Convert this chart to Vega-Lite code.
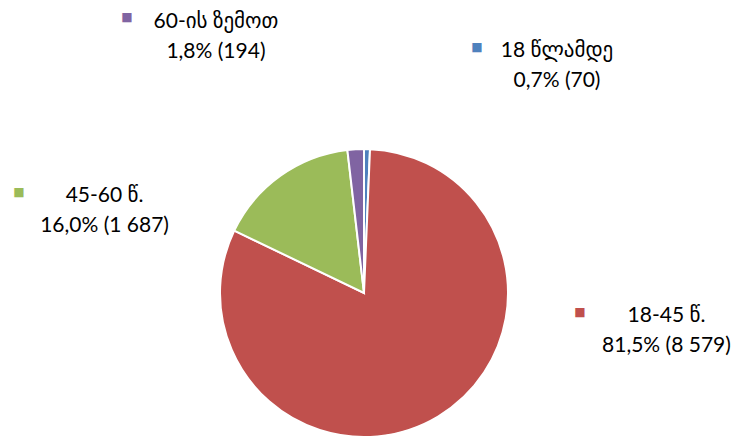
{
  "$schema": "https://vega.github.io/schema/vega-lite/v6.json",
  "width": 288,
  "height": 288,
  "autosize": {"type": "none"},
  "padding": {"left": 220, "top": 149, "right": 228, "bottom": 0},
  "background": "white",
  "config": {"view": {"stroke": null}},
  "data": {
    "values": [
      {"group": "18 წლამდე", "age": 1, "count": 70},
      {"group": "18-45 წ.", "age": 2, "count": 8579},
      {"group": "45-60 წ.", "age": 3, "count": 1687},
      {"group": "60-ის ზემოთ", "age": 4, "count": 194}
    ]
  },
  "transform": [
    {"joinaggregate": [{"op": "sum", "field": "count", "as": "total"}]},
    {"calculate": "replace(format(datum.count / datum.total * 100, '.1f'), '.', ',') + '% (' + replace(format(datum.count, ','), ',', ' ') + ')'", "as": "share"},
    {"calculate": "datum.group + '\\n' + datum.share", "as": "label"}
  ],
  "encoding": {
    "theta": {"field": "count", "type": "quantitative", "stack": true},
    "order": {"field": "age", "type": "quantitative"}
  },
  "layer": [
    {
      "mark": {"type": "arc", "stroke": "white", "strokeWidth": 2},
      "encoding": {
        "color": {"field": "group", "type": "nominal", "legend": null,
          "scale": {"domain": ["18 წლამდე", "18-45 წ.", "45-60 წ.", "60-ის ზემოთ"], "range": ["#4F81BD", "#C0504D", "#9BBB59", "#8064A2"]}}
      }
    },
    {
      "mark": {"type": "text", "radius": 144, "dx": 190, "dy": -98, "align": "center", "baseline": "middle", "lineBreak": "\n", "lineHeight": 30, "fontSize": 21, "font": "Lato, DejaVu Sans", "color": "black"},
      "encoding": {"text": {"condition": {"test": "datum.age == 1", "field": "label"}, "value": ""}}
    },
    {
      "mark": {"type": "text", "radius": 144, "dx": 228.4, "dy": -100, "align": "center", "baseline": "middle", "lineBreak": "\n", "lineHeight": 30, "fontSize": 21, "font": "Lato, DejaVu Sans", "color": "black"},
      "encoding": {"text": {"condition": {"test": "datum.age == 2", "field": "label"}, "value": ""}}
    },
    {
      "mark": {"type": "text", "radius": 144, "dx": -175.9, "dy": 20, "align": "center", "baseline": "middle", "lineBreak": "\n", "lineHeight": 30, "fontSize": 21, "font": "Lato, DejaVu Sans", "color": "black"},
      "encoding": {"text": {"condition": {"test": "datum.age == 3", "field": "label"}, "value": ""}}
    },
    {
      "mark": {"type": "text", "radius": 144, "dx": -139.7, "dy": -127, "align": "center", "baseline": "middle", "lineBreak": "\n", "lineHeight": 30, "fontSize": 21, "font": "Lato, DejaVu Sans", "color": "black"},
      "encoding": {"text": {"condition": {"test": "datum.age == 4", "field": "label"}, "value": ""}}
    },
    {
      "mark": {"type": "text", "radius": 144, "dx": 110, "dy": -102, "align": "center", "baseline": "middle", "fontSize": 12, "font": "DejaVu Sans"},
      "encoding": {
        "text": {"condition": {"test": "datum.age == 1", "value": "■"}, "value": ""},
        "color": {"field": "group", "type": "nominal", "legend": null}
      }
    },
    {
      "mark": {"type": "text", "radius": 144, "dx": 141.9, "dy": -104.5, "align": "center", "baseline": "middle", "fontSize": 12, "font": "DejaVu Sans"},
      "encoding": {
        "text": {"condition": {"test": "datum.age == 2", "value": "■"}, "value": ""},
        "color": {"field": "group", "type": "nominal", "legend": null}
      }
    },
    {
      "mark": {"type": "text", "radius": 144, "dx": -261.4, "dy": 16.3, "align": "center", "baseline": "middle", "fontSize": 12, "font": "DejaVu Sans"},
      "encoding": {
        "text": {"condition": {"test": "datum.age == 3", "value": "■"}, "value": ""},
        "color": {"field": "group", "type": "nominal", "legend": null}
      }
    },
    {
      "mark": {"type": "text", "radius": 144, "dx": -228.7, "dy": -132.2, "align": "center", "baseline": "middle", "fontSize": 12, "font": "DejaVu Sans"},
      "encoding": {
        "text": {"condition": {"test": "datum.age == 4", "value": "■"}, "value": ""},
        "color": {"field": "group", "type": "nominal", "legend": null}
      }
    }
  ]
}
